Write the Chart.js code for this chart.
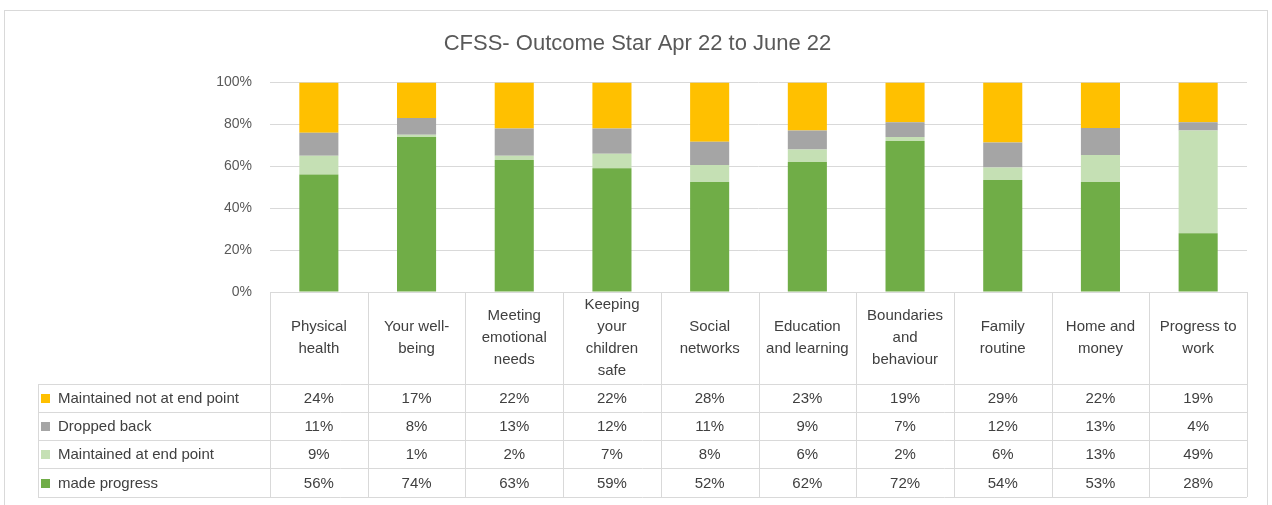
<!DOCTYPE html>
<html>
<head>
<meta charset="utf-8">
<script src="https://cdn.jsdelivr.net/npm/chart.js@4"></script>
<style>
  html, body { margin: 0; padding: 0; background: #fff; }
  #wrap { width: 1272px; height: 505px; }
</style>
</head>
<body>
<div id="wrap"><canvas id="outcomeChart" width="1272" height="505"></canvas></div>
<script>
// Chart data
const categories = [
  ['Physical', 'health'],
  ['Your well-', 'being'],
  ['Meeting', 'emotional', 'needs'],
  ['Keeping', 'your', 'children', 'safe'],
  ['Social', 'networks'],
  ['Education', 'and learning'],
  ['Boundaries', 'and', 'behaviour'],
  ['Family', 'routine'],
  ['Home and', 'money'],
  ['Progress to', 'work']
];
const seriesNames = ['Maintained not at end point', 'Dropped back', 'Maintained at end point', 'made progress'];
const notAtEndPoint = [24, 17, 22, 22, 28, 23, 19, 29, 22, 19];
const droppedBack = [11, 8, 13, 12, 11, 9, 7, 12, 13, 4];
const atEndPoint = [9, 1, 2, 7, 8, 6, 2, 6, 13, 49];
const madeProgress = [56, 74, 63, 59, 52, 62, 72, 54, 53, 28];
const yTicks = [0, 20, 40, 60, 80, 100];

const colors = ['#FFC000', '#A5A5A5', '#C5E0B4', '#70AD47'];
const FONT = '"Liberation Sans", Arial, sans-serif';
const TEXT = '#404040';
const LINE = '#D9D9D9';

// table rows, same order as the legend/table in the picture
const rows = [notAtEndPoint, droppedBack, atEndPoint, madeProgress];
const rowTops = [384, 412, 440, 468, 497];
const tableLeft = 38;

// 100% stacked, like Excel: each column scaled to its own total
const totals = categories.map((_, i) => rows.reduce((s, r) => s + r[i], 0));
const share = vals => vals.map((v, i) => v * 100 / totals[i]);

// Draw the Excel-style data table under the plot
const dataTable = {
  id: 'dataTable',
  afterDraw(chart) {
    const c = chart.ctx;
    const x = chart.scales.x;
    const area = chart.chartArea;
    const colW = (area.right - area.left) / categories.length;
    const top = area.bottom;

    c.save();
    c.strokeStyle = LINE;
    c.lineWidth = 1;

    // horizontal lines
    c.beginPath();
    c.moveTo(area.left, top + 0.5);
    c.lineTo(area.right, top + 0.5);
    rowTops.forEach(y => {
      c.moveTo(tableLeft, y + 0.5);
      c.lineTo(area.right, y + 0.5);
    });
    // vertical lines
    c.moveTo(tableLeft + 0.5, rowTops[0]);
    c.lineTo(tableLeft + 0.5, rowTops[rowTops.length - 1]);
    for (let i = 0; i <= categories.length; i++) {
      const xx = Math.round(area.left + i * colW) + 0.5;
      c.moveTo(xx, top);
      c.lineTo(xx, rowTops[rowTops.length - 1]);
    }
    c.stroke();

    // header labels
    c.fillStyle = TEXT;
    c.font = '15px ' + FONT;
    c.textAlign = 'center';
    c.textBaseline = 'middle';
    const headMid = (top + rowTops[0]) / 2;
    categories.forEach((lines, i) => {
      const cx = x.getPixelForValue(i);
      const lh = 22;
      const y0 = headMid - (lines.length - 1) * lh / 2;
      lines.forEach((t, j) => c.fillText(t, cx, y0 + j * lh));
    });

    // rows
    rows.forEach((vals, r) => {
      const cy = (rowTops[r] + rowTops[r + 1]) / 2;
      c.fillStyle = colors[r];
      c.fillRect(41, Math.round(cy - 4), 9, 9);
      c.fillStyle = TEXT;
      c.textAlign = 'left';
      c.fillText(seriesNames[r], 58, cy + 1);
      c.textAlign = 'center';
      vals.forEach((v, i) => c.fillText(v + '%', x.getPixelForValue(i), cy + 1));
    });

    // outer chart border
    c.strokeStyle = LINE;
    c.strokeRect(4.5, 10.5, 1263, 500);
    c.restore();
  }
};

const ctx = document.getElementById('outcomeChart').getContext('2d');
new Chart(ctx, {
  type: 'bar',
  data: {
    labels: categories,
    // stacked bottom-up: made progress first
    datasets: [3, 2, 1, 0].map(r => ({
      label: seriesNames[r],
      data: share(rows[r]),
      backgroundColor: colors[r],
      borderWidth: 0,
      barPercentage: 0.4,
      categoryPercentage: 1
    }))
  },
  options: {
    responsive: false,
    animation: false,
    layout: { padding: { left: 28, right: 25, top: 10, bottom: 213 } },
    plugins: {
      legend: { display: false },
      tooltip: { enabled: false },
      title: {
        display: true,
        text: 'CFSS- Outcome Star Apr 22 to June 22',
        color: '#595959',
        font: { family: FONT, size: 22, weight: 'normal' },
        padding: { top: 21, bottom: 25 }
      }
    },
    scales: {
      x: {
        stacked: true,
        display: false
      },
      y: {
        stacked: true,
        min: 0,
        max: 100,
        afterFit(scale) { scale.width = 242; },
        afterBuildTicks(scale) { scale.ticks = yTicks.map(v => ({ value: v })); },
        border: { display: false },
        grid: { color: LINE, drawTicks: false },
        ticks: {
          padding: 18,
          color: '#595959',
          font: { family: FONT, size: 14 },
          callback: v => v + '%'
        }
      }
    }
  },
  plugins: [dataTable]
});
</script>
</body>
</html>
